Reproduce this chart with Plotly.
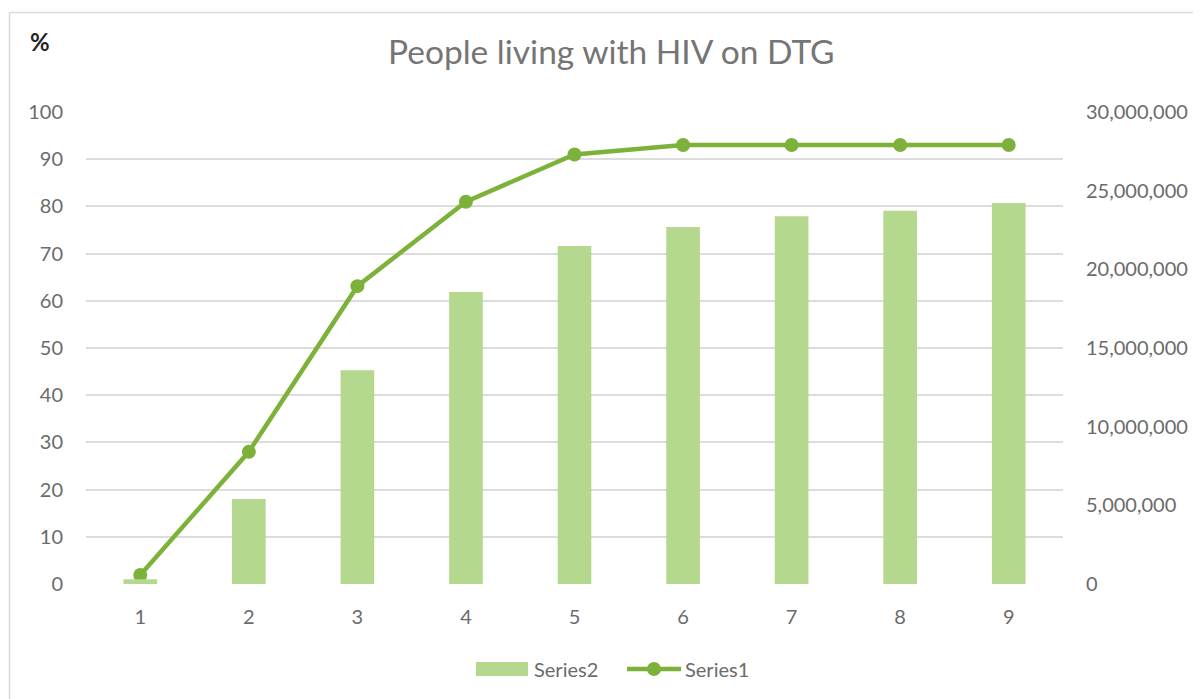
import plotly.graph_objects as go

categories = [1, 2, 3, 4, 5, 6, 7, 8, 9]
series2_people = [300000, 5400000, 13590000, 18560000, 21480000, 22690000, 23370000, 23730000, 24210000]
series1_pct = [1.9, 28.0, 63.1, 81.0, 91.0, 93.0, 93.0, 93.0, 93.0]
left_ticks = [0, 10, 20, 30, 40, 50, 60, 70, 80, 90, 100]
right_ticks = [0, 5000000, 10000000, 15000000, 20000000, 25000000, 30000000]

FONT = "Lato"
TICK_COLOR = "#6b6b6b"
BAR_COLOR = "#b3d88e"
LINE_COLOR = "#7db23a"
TICK_SIZE = 20

# page body has an 8px margin; lay out in reference pixel terms
OFF = 8
PL, PR, PT, PB = 86, 1063, 112, 584   # plot area in reference pixels
PW, PH = PR - PL, PB - PT


def px(xr):
    return (xr - PL) / PW


def py(yr):
    return (PB - yr) / PH


fig = go.Figure()
fig.add_trace(go.Bar(
    x=categories, y=series2_people, name="Series2", yaxis="y2",
    marker=dict(color=BAR_COLOR, line=dict(width=0)), width=0.31,
))
fig.add_trace(go.Scatter(
    x=categories, y=series1_pct, name="Series1", mode="lines+markers",
    line=dict(color=LINE_COLOR, width=4.5), marker=dict(color=LINE_COLOR, size=14),
))

fig.update_layout(
    width=1201 - OFF, height=699 - OFF,
    margin=dict(l=PL - OFF, r=1201 - PR, t=PT - OFF, b=699 - PB),
    paper_bgcolor="white", plot_bgcolor="white",
    font=dict(family=FONT, color=TICK_COLOR, size=TICK_SIZE),
    showlegend=False,
    xaxis=dict(type="linear", range=[0.5, 9.5], tickvals=categories,
               showgrid=False, zeroline=False, showline=False, ticks="",
               ticklabelstandoff=19, tickfont=dict(size=TICK_SIZE, color=TICK_COLOR)),
    yaxis=dict(range=[0, 100], tickvals=left_ticks, showgrid=True,
               gridcolor="#dcdcdc", gridwidth=1.5, zeroline=False, showline=False,
               ticks="", ticklabelstandoff=22, tickfont=dict(size=TICK_SIZE, color=TICK_COLOR)),
    yaxis2=dict(range=[0, 30000000], tickvals=right_ticks, overlaying="y", side="right",
                showgrid=False, zeroline=False, showline=False, tickformat=",d",
                ticks="", ticklabelstandoff=22, tickfont=dict(size=TICK_SIZE, color=TICK_COLOR)),
)

# title
fig.add_annotation(text="People living with HIV on DTG", xref="paper", yref="paper",
                   x=px(611), y=py(51), xanchor="center", yanchor="middle", showarrow=False,
                   font=dict(family=FONT, size=33.5, color="#757575"))
# axis unit label
fig.add_annotation(text="<b>%</b>", xref="paper", yref="paper",
                   x=px(40), y=py(42), xanchor="center", yanchor="middle",
                   showarrow=False, font=dict(family=FONT, size=24, color="#262626"))

# chart border (top and left visible)
fig.add_shape(type="line", xref="paper", yref="paper",
              x0=px(9.5), x1=px(1201), y0=py(12.5), y1=py(12.5),
              line=dict(color="#d9d9d9", width=1.5))
fig.add_shape(type="line", xref="paper", yref="paper",
              x0=px(9.5), x1=px(9.5), y0=py(12.5), y1=py(699),
              line=dict(color="#d9d9d9", width=1.5))

# legend
LY = 669
fig.add_shape(type="rect", xref="paper", yref="paper",
              x0=px(476), x1=px(528), y0=py(662), y1=py(676),
              fillcolor=BAR_COLOR, line=dict(width=0))
fig.add_annotation(text="Series2", xref="paper", yref="paper", x=px(532), y=py(LY),
                   xanchor="left", yanchor="middle", showarrow=False,
                   font=dict(family=FONT, size=20, color=TICK_COLOR))
fig.add_shape(type="line", xref="paper", yref="paper",
              x0=px(627), x1=px(681), y0=py(LY), y1=py(LY),
              line=dict(color=LINE_COLOR, width=4.5))
fig.add_shape(type="circle", xref="paper", yref="paper",
              x0=px(647), x1=px(661), y0=py(LY - 7), y1=py(LY + 7),
              fillcolor=LINE_COLOR, line=dict(width=0))
fig.add_annotation(text="Series1", xref="paper", yref="paper", x=px(683), y=py(LY),
                   xanchor="left", yanchor="middle", showarrow=False,
                   font=dict(family=FONT, size=20, color=TICK_COLOR))

fig.write_html("out.html")
